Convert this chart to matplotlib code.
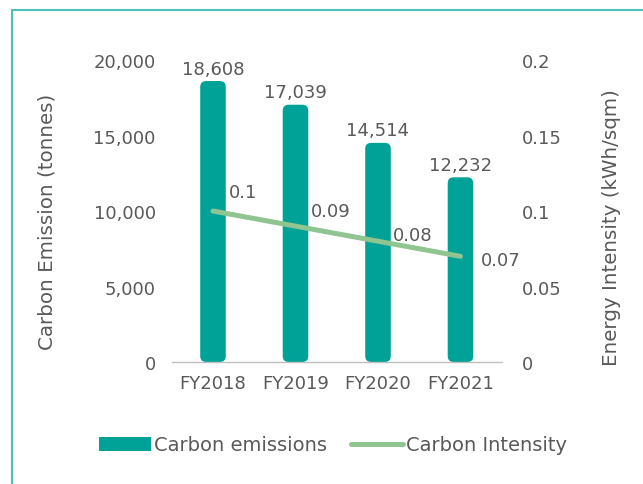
import matplotlib.pyplot as plt
from matplotlib.patches import FancyBboxPatch, Rectangle
from matplotlib.lines import Line2D
from matplotlib.patches import Patch

# Datos del grafico
years = ['FY2018', 'FY2019', 'FY2020', 'FY2021']
emissions = [18608, 17039, 14514, 12232]
intensity = [0.1, 0.09, 0.08, 0.07]
intensity_labels = ['0.1', '0.09', '0.08', '0.07']

bar_color = '#00a297'
line_color = '#90c490'
text_color = '#595959'

plt.rcParams['font.family'] = ['DejaVu Sans']
plt.rcParams['font.size'] = 13

fig = plt.figure(figsize=(6.43, 4.85), dpi=100)
ax = fig.add_axes([0.2671, 0.2515, 0.5132, 0.6227])
ax2 = ax.twinx()

x = list(range(len(years)))
ax.set_xlim(-0.5, len(years) - 0.5)
ax.set_ylim(0, 20000)
ax2.set_ylim(0, 0.2)

# Barras con esquinas redondeadas
bars = ax.bar(x, emissions, width=0.31, color=bar_color)
fig.canvas.draw()
bb = ax.get_window_extent()
x_per_px = 4 / bb.width
y_per_px = 20000 / bb.height
aspect = y_per_px / x_per_px
for b in bars:
    b.set_visible(False)
    fb = FancyBboxPatch((b.get_x(), b.get_y()), b.get_width(), b.get_height(),
                        boxstyle=f'round,pad=0,rounding_size={6 * x_per_px}',
                        mutation_aspect=aspect, facecolor=bar_color, edgecolor='none',
                        zorder=2)
    ax.add_patch(fb)

for xi, v in zip(x, emissions):
    ax.annotate(f'{v:,}', (xi, v), xytext=(0, 2.5), textcoords='offset points',
                ha='center', va='bottom', color=text_color, fontsize=13)

# Linea de intensidad
ax2.plot(x, intensity, color=line_color, lw=3.6, solid_capstyle='round', zorder=3)
offsets = [(11.5, 14), (11, 11), (11, 4.5), (14.5, -3)]
for xi, v, lab, off in zip(x, intensity, intensity_labels, offsets):
    ax2.annotate(lab, (xi, v), xytext=off, textcoords='offset points',
                 ha='left', va='center', color=text_color, fontsize=13)

ax.set_yticks([0, 5000, 10000, 15000, 20000])
ax.set_yticklabels(['0', '5,000', '10,000', '15,000', '20,000'])
ax2.set_yticks([0, 0.05, 0.1, 0.15, 0.2])
ax2.set_yticklabels(['0', '0.05', '0.1', '0.15', '0.2'])
ax.set_xticks(x)
ax.set_xticklabels(years)

ax.tick_params(axis='y', length=0, pad=11.5, colors=text_color, labelsize=13)
ax.tick_params(axis='x', length=0, pad=8.5, colors=text_color, labelsize=13)
ax2.tick_params(axis='y', length=0, pad=14.5, colors=text_color, labelsize=13)

for a in (ax, ax2):
    for s in a.spines.values():
        s.set_visible(False)
ax.spines['bottom'].set_visible(True)
ax.spines['bottom'].set_color('#bfbfbf')
ax.spines['bottom'].set_linewidth(1)

ax.set_ylabel('Carbon Emission (tonnes)', color=text_color, fontsize=14.3)
ax.yaxis.set_label_coords(-0.348, 0.467)
ax2.set_ylabel('Energy Intensity (kWh/sqm)', color=text_color, fontsize=14.3)
ax2.yaxis.set_label_coords(1.303, 0.447)

handles = [Patch(facecolor=bar_color, edgecolor='none'),
           Line2D([0], [0], color=line_color, lw=3.6, solid_capstyle='round')]
leg = fig.legend(handles, ['Carbon emissions', 'Carbon Intensity'], loc='center',
                 bbox_to_anchor=(333 / 643, 1 - 446 / 485), ncol=2, frameon=False,
                 handlelength=2.7, handleheight=0.75, handletextpad=0.15,
                 columnspacing=1.2, fontsize=14)
for t in leg.get_texts():
    t.set_color(text_color)

# Marco del grafico
fig.patches.append(Rectangle((12 / 643, -0.1), 1.2, 1 - 11 / 485 + 0.1,
                             transform=fig.transFigure, fill=False,
                             edgecolor='#4dc2b7', lw=1.5))

fig.savefig('out.png', dpi=100)
